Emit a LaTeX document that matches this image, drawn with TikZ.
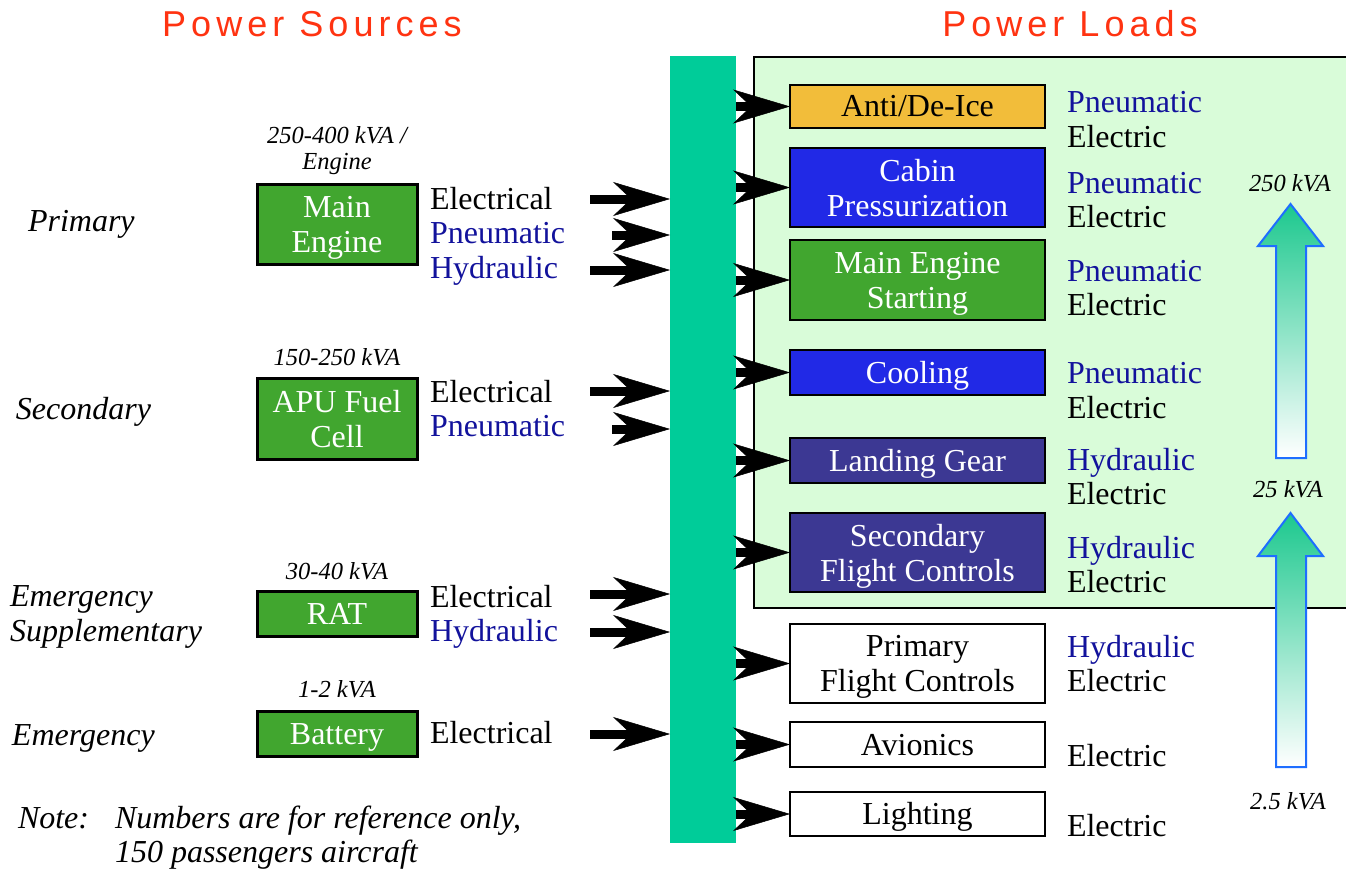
\documentclass[tikz,border=0pt]{standalone}
\usepackage{fontspec}
\setmainfont{Liberation Serif}
\newfontfamily\headfont[LetterSpace=14]{Liberation Sans}
\usetikzlibrary{arrows.meta}

\definecolor{headred}{HTML}{FF3311}
\definecolor{busgreen}{HTML}{00CC99}
\definecolor{zonegreen}{HTML}{D9FCD9}
\definecolor{srcgreen}{HTML}{41A62F}
\definecolor{antiyellow}{HTML}{F2BD3A}
\definecolor{cabinblue}{HTML}{2129E6}
\definecolor{indigo}{HTML}{3C3893}
\definecolor{navy}{HTML}{12129C}
\definecolor{arrowblue}{HTML}{1E6EFF}
\definecolor{arrowteal}{HTML}{1CC88E}

\newcommand\txtsize{\fontsize{32}{35}\selectfont}
\newcommand\valsize{\fontsize{24.5}{26}\selectfont}
\newcommand\headsize{\fontsize{36}{40}\selectfont}

\tikzset{
  every node/.style={inner sep=0pt, outer sep=0pt},
  heading/.style={font=\headsize\headfont, text=headred, anchor=base},
  lbl/.style={font=\txtsize, anchor=base west},
  blu/.style={lbl, text=navy},
  cat/.style={font=\txtsize\itshape, anchor=base west},
  val/.style={font=\valsize\itshape, anchor=base},
  oneline/.style={text height=25pt, text depth=4pt},
  twoline/.style={text depth=0pt},
  srcbox/.style={draw=black, line width=3pt, fill=srcgreen, text=white,
    font=\txtsize, align=center, minimum width=160pt},
  loadbox/.style={draw=black, line width=2.5pt, font=\txtsize, align=center,
    minimum width=255pt},
  bigarrow/.style={line width=9pt,
    -{Stealth[length=57pt, width=34pt, inset=18pt, line width=0.5pt]}},
  uparrow/.style={draw=arrowblue, line width=2pt, top color=arrowteal,
    bottom color=white},
}

\begin{document}
\begin{tikzpicture}[x=1pt, y=-1pt]
\clip (0,0) rectangle (1346,872);
\fill[white] (0,0) rectangle (1346,872);

% headings
\node[heading] (hsrc) at (312,37) {Power Sources};
\node[heading] (hload) at (1070,37) {Power Loads};

% zone of loads above 25 kVA
\path[draw=black, line width=2pt, fill=zonegreen] (754,57) rectangle (1360,608);

% distribution bus
\node[fill=busgreen, minimum width=66pt, minimum height=787pt] (bus) at (703,449.5) {};

% ---------- sources ----------
\node[cat] (cprim) at (28,231) {Primary};
\node[cat] (csec) at (16,419) {Secondary};
\node[cat] (cems1) at (10,606) {Emergency};
\node[cat] (cems2) at (10,641) {Supplementary};
\node[cat] (cemg) at (12,745) {Emergency};

\node[val] (v1a) at (337,143) {250-400 kVA /};
\node[val] (v1b) at (337,169) {Engine};
\node[val] (v2) at (337,365) {150-250 kVA};
\node[val] (v3) at (337,579) {30-40 kVA};
\node[val] (v4) at (337,697) {1-2 kVA};

\node[srcbox, twoline, minimum height=80pt] (eng) at (337,224) {Main\\Engine};
\node[srcbox, twoline, minimum height=81pt] (apu) at (337,418.5) {APU Fuel\\Cell};
\node[srcbox, oneline, minimum height=45pt] (rat) at (337,613.5) {RAT};
\node[srcbox, oneline, minimum height=45pt] (bat) at (337,733.5) {Battery};

\node[lbl] (engel) at (430,209) {Electrical};
\node[blu] (engpn) at (430,243) {Pneumatic};
\node[blu] (enghy) at (430,278) {Hydraulic};
\node[lbl] (apuel) at (430,402) {Electrical};
\node[blu] (apupn) at (430,436) {Pneumatic};
\node[lbl] (ratel) at (430,607) {Electrical};
\node[blu] (rathy) at (430,641) {Hydraulic};
\node[lbl] (batel) at (430,743) {Electrical};

% feeds into the bus
\coordinate (f1) at (590,199);
\coordinate (f2) at (612,235);
\coordinate (f3) at (590,270);
\coordinate (f4) at (590,391);
\coordinate (f5) at (612,429);
\coordinate (f6) at (590,594);
\coordinate (f7) at (590,632);
\coordinate (f8) at (590,734);
\foreach \f in {f1,f2,f3,f4,f5,f6,f7,f8}
  \draw[bigarrow] (\f) -- (\f -| bus.west);

% ---------- loads ----------
\node[loadbox, oneline, fill=antiyellow, minimum height=43pt] (anti) at (917.5,106.5) {Anti/De-Ice};
\node[loadbox, twoline, fill=cabinblue, text=white, minimum height=79pt] (cabin) at (917.5,187.5) {Cabin\\Pressurization};
\node[loadbox, twoline, fill=srcgreen, text=white, minimum height=80pt] (start) at (917.5,280) {Main Engine\\Starting};
\node[loadbox, oneline, fill=cabinblue, text=white, minimum height=45pt] (cool) at (917.5,372.5) {Cooling};
\node[loadbox, oneline, fill=indigo, text=white, minimum height=45pt] (gear) at (917.5,460.5) {Landing Gear};
\node[loadbox, twoline, fill=indigo, text=white, minimum height=79pt] (sfc) at (917.5,552.5) {Secondary\\Flight Controls};
\node[loadbox, twoline, fill=white, minimum height=79pt] (pfc) at (917.5,663.5) {Primary\\Flight Controls};
\node[loadbox, oneline, fill=white, minimum height=45pt] (avio) at (917.5,744.5) {Avionics};
\node[loadbox, oneline, fill=white, minimum height=44pt] (light) at (917.5,814) {Lighting};

\foreach \b in {anti,cabin,start,cool,gear,sfc,pfc,avio,light}
  \draw[bigarrow] (bus.east |- \b.west) -- (\b.west);

\node[blu] (antipn) at (1067,113) {Pneumatic};
\node[lbl] (antiel) at (1067,147) {Electric};
\node[blu] (cabinpn) at (1067,193) {Pneumatic};
\node[lbl] (cabinel) at (1067,227) {Electric};
\node[blu] (startpn) at (1067,281) {Pneumatic};
\node[lbl] (startel) at (1067,315) {Electric};
\node[blu] (coolpn) at (1067,383) {Pneumatic};
\node[lbl] (coolel) at (1067,418) {Electric};
\node[blu] (gearhy) at (1067,470) {Hydraulic};
\node[lbl] (gearel) at (1067,504) {Electric};
\node[blu] (sfchy) at (1067,558) {Hydraulic};
\node[lbl] (sfcel) at (1067,592) {Electric};
\node[blu] (pfchy) at (1067,657) {Hydraulic};
\node[lbl] (pfcel) at (1067,691) {Electric};
\node[lbl] (avioel) at (1067,766) {Electric};
\node[lbl] (lightel) at (1067,836) {Electric};

% power scale arrows
\path[uparrow] (1276,458) -- (1276,246) -- (1258,246) -- (1290.5,204)
  -- (1323,246) -- (1306,246) -- (1306,458) -- cycle;
\path[uparrow] (1276,767) -- (1276,556) -- (1258,556) -- (1290.5,513)
  -- (1323,556) -- (1306,556) -- (1306,767) -- cycle;
\node[val] (k250) at (1290,191) {250 kVA};
\node[val] (k25) at (1288,497) {25 kVA};
\node[val] (k2) at (1288,809) {2.5 kVA};

% note
\node[cat] (note) at (18,828) {Note:};
\node[cat] (note1) at (115,828) {Numbers are for reference only,};
\node[cat] (note2) at (115,862) {150 passengers aircraft};
\end{tikzpicture}
\end{document}
